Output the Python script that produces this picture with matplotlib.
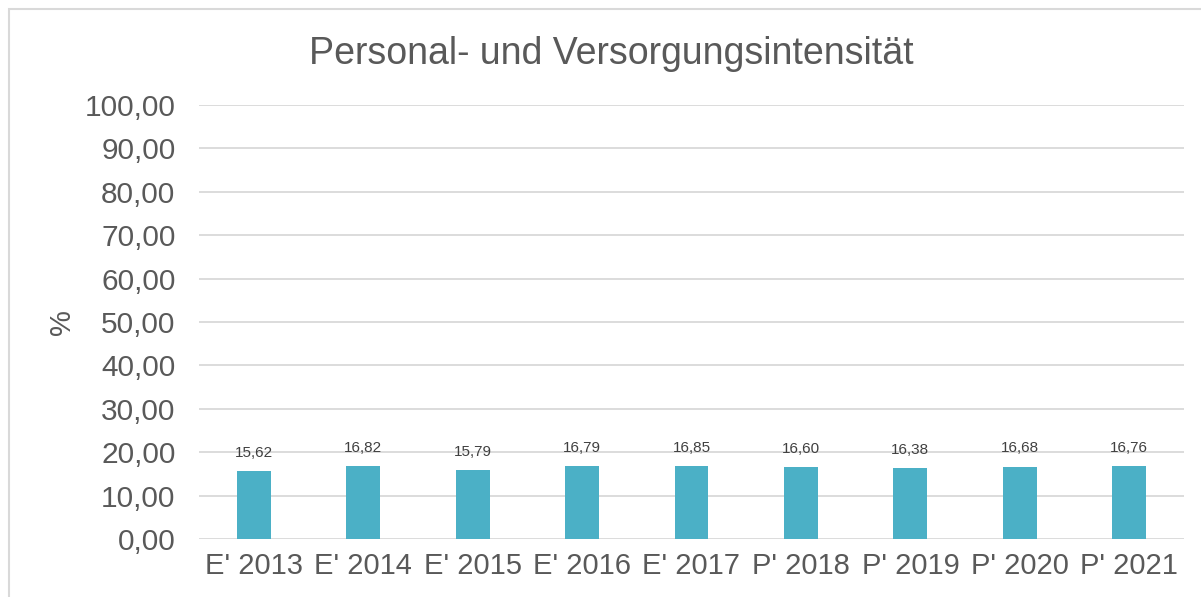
import matplotlib
matplotlib.use("Agg")
import matplotlib.pyplot as plt
from matplotlib.patches import Rectangle
from matplotlib.ticker import FuncFormatter

categories = ["E' 2013", "E' 2014", "E' 2015", "E' 2016", "E' 2017",
              "P' 2018", "P' 2019", "P' 2020", "P' 2021"]
values = [15.62, 16.82, 15.79, 16.79, 16.85, 16.60, 16.38, 16.68, 16.76]
yticks = [0, 10, 20, 30, 40, 50, 60, 70, 80, 90, 100]

plt.rcParams['font.family'] = ['Liberation Sans', 'DejaVu Sans']
TXT = '#595959'
W, H = 1201, 597
fig = plt.figure(figsize=(W / 100, H / 100), dpi=100)

# outer chart border
fig.patches.append(Rectangle((9 / W, -0.1), 1.2, 1 - 9 / H + 0.1, transform=fig.transFigure,
                             fill=False, edgecolor='#D9D9D9', linewidth=1.5))

left, right = 199 / W, 1184 / W
bottom, top = 1 - 539 / H, 1 - 105 / H
ax = fig.add_axes([left, bottom, right - left, top - bottom])

x = list(range(len(categories)))
bars = ax.bar(x, values, width=0.31, color='#4BB0C6', zorder=3)
ax.set_xlim(-0.5, len(categories) - 0.5)
ax.set_ylim(0, 100)
ax.set_yticks(yticks)
ax.yaxis.set_major_formatter(FuncFormatter(lambda v, p: f"{v:.2f}".replace('.', ',')))
ax.set_xticks(x)
ax.set_xticklabels(categories)
ax.grid(axis='y', color='#D9D9D9', linewidth=1.3, zorder=0)
for s in ax.spines.values():
    s.set_visible(False)
ax.tick_params(axis='both', length=0, labelsize=21, colors=TXT)
ax.tick_params(axis='y', pad=17, labelsize=21.5)
ax.tick_params(axis='x', pad=9)

for xi, v in zip(x, values):
    ax.annotate(f"{v:.2f}".replace('.', ','), (xi, v), xytext=(0, 8),
                textcoords='offset points', ha='center', va='bottom',
                fontsize=11, color='#404040')

fig.text(611 / W, 1 - 54 / H, "Personal- und Versorgungsintensität",
         ha='center', va='center', fontsize=27, color=TXT)
fig.text(62 / W, 1 - 322 / H, "%", rotation=90, ha='center', va='center',
         fontsize=21, color=TXT)

fig.savefig("out.png", dpi=100)
